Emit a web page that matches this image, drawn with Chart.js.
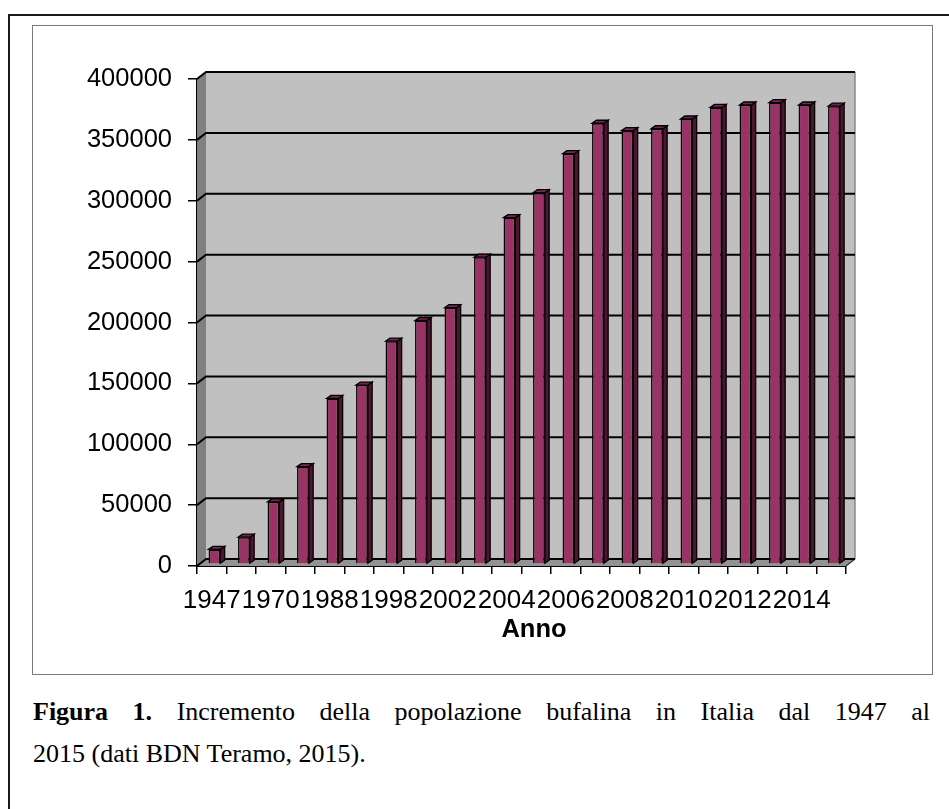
<!DOCTYPE html>
<html>
<head>
<meta charset="utf-8">
<title>Popolazione bufalina in Italia</title>
<script src="https://cdn.jsdelivr.net/npm/chart.js@4/dist/chart.umd.min.js"></script>
<style>
  html, body { margin: 0; padding: 0; background: #fff; width: 949px; height: 809px; overflow: hidden; }
  #outer { position: absolute; left: 8px; top: 14px; width: 960px; height: 820px; border: 2px solid #1a1a1a; box-sizing: border-box; }
  #frame { position: absolute; left: 32px; top: 25px; width: 901px; height: 650px; border: 1.5px solid #7a7a7a; box-sizing: border-box; }
  #wrap { position: absolute; left: 0; top: 0; width: 949px; height: 672px; }
  .cap { position: absolute; left: 33px; width: 897px; font-family: "Liberation Serif", "Times New Roman", serif; font-size: 26px; line-height: 30px; color: #000; }
  #cap1 { top: 697px; text-align: justify; text-align-last: justify; }
  #cap2 { top: 739px; text-align: left; }
</style>
</head>
<body>
<div id="outer"></div>
<div id="frame"></div>
<div id="wrap"><canvas id="chart"></canvas></div>
<div class="cap" id="cap1"><b>Figura 1.</b> Incremento della popolazione bufalina in Italia dal 1947 al</div>
<div class="cap" id="cap2">2015 (dati BDN Teramo, 2015).</div>
<script>
// Years on the category axis (every other one is labelled)
const anni = ['1947', '1960', '1970', '1980', '1988', '1990', '1998', '2000',
              '2002', '2003', '2004', '2005', '2006', '2007', '2008', '2009',
              '2010', '2011', '2012', '2013', '2014', '2015'];

// Number of buffalo heads per year
const capi = [12000, 22000, 51000, 80000, 136000, 147000, 183000, 200000,
              210500, 252000, 284500, 305000, 337000, 362000, 356000, 357500,
              365500, 375000, 377000, 379000, 377000, 376000];

// Value-axis ticks
const tickMin = 0;
const tickMax = 400000;
const tickStep = 50000;

const asseX = 'Anno';

const FONT = '"Liberation Sans", Arial, sans-serif';

// depth of the back wall and of each column
const WALL_DX = 9, WALL_DY = -7;
const BAR_DX = 4.3, BAR_DY = -3;
const BAR_SHIFT_X = 2.7, BAR_SHIFT_Y = -2;

const pseudo3d = {
  id: 'pseudo3d',
  beforeDatasetsDraw(chart) {
    const { ctx, chartArea: a, scales: { y } } = chart;
    ctx.save();
    // left side wall
    ctx.fillStyle = '#808080';
    ctx.beginPath();
    ctx.moveTo(a.left, a.top);
    ctx.lineTo(a.left + WALL_DX, a.top + WALL_DY);
    ctx.lineTo(a.left + WALL_DX, a.bottom + WALL_DY);
    ctx.lineTo(a.left, a.bottom);
    ctx.closePath();
    ctx.fill();
    // back wall
    ctx.fillStyle = '#c0c0c0';
    ctx.fillRect(a.left + WALL_DX, a.top + WALL_DY, a.right - a.left, a.bottom - a.top);
    ctx.strokeStyle = '#8a8a8a';
    ctx.lineWidth = 1.5;
    ctx.beginPath();
    ctx.moveTo(a.right + WALL_DX, a.top + WALL_DY);
    ctx.lineTo(a.right + WALL_DX, a.bottom + WALL_DY);
    ctx.stroke();
    // floor
    ctx.fillStyle = '#939393';
    ctx.beginPath();
    ctx.moveTo(a.left, a.bottom);
    ctx.lineTo(a.left + WALL_DX, a.bottom + WALL_DY);
    ctx.lineTo(a.right + WALL_DX, a.bottom + WALL_DY);
    ctx.lineTo(a.right, a.bottom);
    ctx.closePath();
    ctx.fill();
    ctx.strokeStyle = '#333';
    ctx.lineWidth = 1.2;
    ctx.beginPath();
    ctx.moveTo(a.right, a.bottom);
    ctx.lineTo(a.right + WALL_DX, a.bottom + WALL_DY);
    ctx.stroke();
    // gridlines running across side wall and back wall
    ctx.strokeStyle = '#000';
    ctx.lineWidth = 2;
    y.ticks.forEach(t => {
      const py = y.getPixelForValue(t.value);
      ctx.beginPath();
      ctx.moveTo(a.left, py);
      ctx.lineTo(a.left + WALL_DX, py + WALL_DY);
      ctx.lineTo(a.right + WALL_DX, py + WALL_DY);
      ctx.stroke();
    });
    ctx.restore();
    // columns stand a little inside the depth
    ctx.save();
    ctx.translate(BAR_SHIFT_X, BAR_SHIFT_Y);
  },
  afterDatasetsDraw(chart) {
    const { ctx } = chart;
    const meta = chart.getDatasetMeta(0);
    ctx.lineWidth = 1.3;
    ctx.strokeStyle = '#000';
    meta.data.forEach(el => {
      const { x, y, base, width } = el.getProps(['x', 'y', 'base', 'width'], true);
      const l = x - width / 2, r = x + width / 2;
      // side face
      ctx.fillStyle = '#4f1530';
      ctx.beginPath();
      ctx.moveTo(r, y);
      ctx.lineTo(r + BAR_DX, y + BAR_DY);
      ctx.lineTo(r + BAR_DX, base + BAR_DY);
      ctx.lineTo(r, base);
      ctx.closePath();
      ctx.fill();
      ctx.stroke();
      // top face
      ctx.fillStyle = '#7a2450';
      ctx.beginPath();
      ctx.moveTo(l, y);
      ctx.lineTo(l + BAR_DX, y + BAR_DY);
      ctx.lineTo(r + BAR_DX, y + BAR_DY);
      ctx.lineTo(r, y);
      ctx.closePath();
      ctx.fill();
      ctx.stroke();
    });
    ctx.restore();
  },
  afterDraw(chart) {
    // category-axis title, centred under the whole plot including its depth
    const { ctx, chartArea: a } = chart;
    ctx.save();
    ctx.font = 'bold 25.5px ' + FONT;
    ctx.fillStyle = '#000';
    ctx.textAlign = 'center';
    ctx.textBaseline = 'middle';
    ctx.fillText(asseX, (a.left + a.right) / 2 + 12.5, a.bottom + 64);
    ctx.restore();
  }
};

new Chart(document.getElementById('chart'), {
  type: 'bar',
  data: {
    labels: anni,
    datasets: [{
      data: capi,
      backgroundColor: '#993366',
      borderColor: '#000',
      borderWidth: 1.5,
      barPercentage: 0.4,
      categoryPercentage: 1
    }]
  },
  options: {
    responsive: true,
    maintainAspectRatio: false,
    animation: false,
    layout: { padding: { left: 40, right: 103, top: 79, bottom: 16 } },
    plugins: { legend: { display: false }, tooltip: { enabled: false } },
    scales: {
      x: {
        afterFit(scale) { scale.height = 90; },
        grid: { offset: true, drawOnChartArea: false, drawTicks: true, tickLength: 8, color: '#000', lineWidth: 1.5 },
        border: { display: true, color: '#000', width: 2 },
        ticks: {
          autoSkip: false,
          maxRotation: 0,
          padding: 11,
          color: '#000',
          font: { family: FONT, size: 26 },
          callback(value, index) { return index % 2 === 0 ? this.getLabelForValue(value) : ''; }
        },
        title: { display: false }
      },
      y: {
        min: tickMin,
        max: tickMax,
        afterFit(scale) { scale.width = 157; },
        grid: { drawOnChartArea: false, drawTicks: true, tickLength: 9, color: '#000', lineWidth: 1.5 },
        border: { display: true, color: '#000', width: 1.5 },
        ticks: {
          stepSize: tickStep,
          padding: 16,
          color: '#000',
          font: { family: FONT, size: 25.5 },
          callback: v => String(v)
        }
      }
    }
  },
  plugins: [pseudo3d]
});
</script>
</body>
</html>
